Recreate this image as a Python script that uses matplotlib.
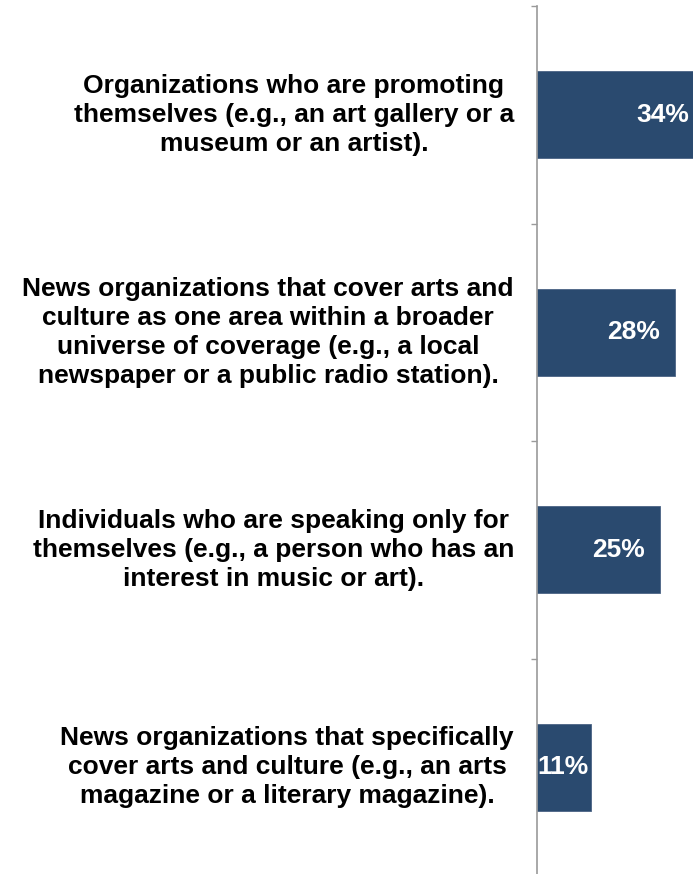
import numpy as np
import matplotlib.pyplot as plt

plt.rcParams["font.family"] = ["Liberation Sans", "DejaVu Sans"]

# survey categories (top to bottom) and share of respondents
categories = [
    "Organizations who are promoting\nthemselves (e.g., an art gallery or a\nmuseum or an artist).",
    "News organizations that cover arts and\nculture as one area within a broader\nuniverse of coverage (e.g., a local\nnewspaper or a public radio station).",
    "Individuals who are speaking only for\nthemselves (e.g., a person who has an\ninterest in music or art).",
    "News organizations that specifically\ncover arts and culture (e.g., an arts\nmagazine or a literary magazine).",
]
values = [34, 28, 25, 11]
value_labels = ["34%", "28%", "25%", "11%"]

BAR_COLOR = "#2a4a6f"
AXIS_COLOR = "#9a9a9a"
FONT_SIZE = 19

W, H, DPI = 693, 874, 100
fig = plt.figure(figsize=(W / DPI, H / DPI), dpi=DPI)

# axis origin in pixels and horizontal scale (px per percent)
x0_px = 537
px_per_pct = 4.93
xmax = 40
ax = fig.add_axes([x0_px / W, -2 / H, xmax * px_per_pct / W, 870 / H])

y = np.arange(len(values))
ax.barh(y, values, height=0.4, color=BAR_COLOR, edgecolor="#4a6384", linewidth=0.6)

ax.set_xlim(0, xmax)
ax.set_ylim(len(values) - 0.5, -0.5)

# category boundaries as tick marks, no tick labels
ax.set_yticks(np.arange(-0.5, len(values) + 0.5, 1.0))
ax.set_yticklabels([])
ax.tick_params(axis="y", direction="out", length=4.3, width=1.0, color=AXIS_COLOR)
ax.set_xticks([])
for side in ["top", "right", "bottom"]:
    ax.spines[side].set_visible(False)
ax.spines["left"].set_color(AXIS_COLOR)
ax.spines["left"].set_linewidth(1.2)

# category labels, right-aligned block left of the axis
for yi, cat in zip(y, categories):
    ax.annotate(cat, xy=(0, yi), xycoords="data", xytext=(-23, 0),
                textcoords="offset pixels", ha="right", va="center",
                multialignment="center", fontsize=FONT_SIZE,
                fontweight="bold", linespacing=1.27, color="black")

# value labels inside the bar ends
renderer = fig.canvas.get_renderer()
for yi, v, lab in zip(y, values, value_labels):
    t = ax.text(0, yi, lab, ha="right", va="center", fontsize=FONT_SIZE,
                fontweight="bold", color="white")
    tw = t.get_window_extent(renderer).width
    bar_px = v * px_per_pct
    pad = min(15, max(bar_px - tw, 0))
    t.set_x(v - pad / px_per_pct)

fig.savefig("out.png", dpi=DPI)
